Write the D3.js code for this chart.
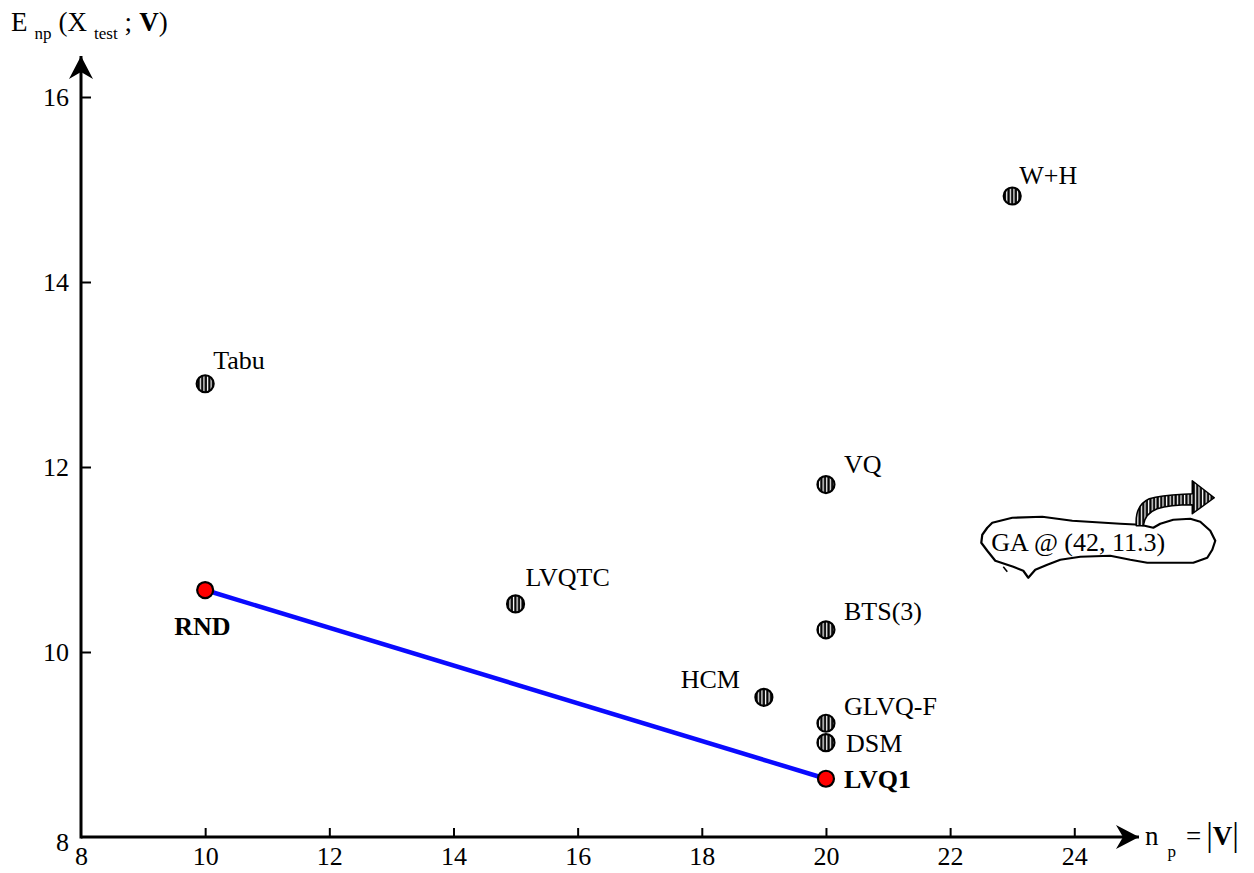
<!DOCTYPE html>
<html>
<head>
<meta charset="utf-8">
<script src="https://cdn.jsdelivr.net/npm/d3@7/dist/d3.min.js"></script>
<style>
  html, body { margin: 0; padding: 0; background: #fff; }
  svg { display: block; font-family: "Liberation Serif", "Times New Roman", serif; }
  svg text { font-family: "Liberation Serif", "Times New Roman", serif; }
</style>
</head>
<body>
<svg id="chart" width="1254" height="873"></svg>
<script>
// Competing prototype-selection methods: number of prototypes vs. test error
const methods    = ["Tabu", "W+H", "VQ", "LVQTC", "BTS(3)", "HCM", "GLVQ-F", "DSM"];
const prototypes = [10, 23, 20, 15, 20, 19, 20, 20];
const errors     = [12.9, 14.93, 11.81, 10.52, 10.24, 9.51, 9.23, 9.02];

// Baseline pair joined by a line
const baseNames  = ["RND", "LVQ1"];
const basePrototypes = [10, 20];
const baseErrors = [10.67, 8.63];

const xTicks = [8, 10, 12, 14, 16, 18, 20, 22, 24];
const yTicks = [8, 10, 12, 14, 16];

const gaNote = "GA @ (42, 11.3)";

// label placement relative to each marker (px)
const labelOffset = {
  "Tabu":   { dx: 8,   dy: -15, anchor: "start" },
  "W+H":    { dx: 7,   dy: -12, anchor: "start" },
  "VQ":     { dx: 18,  dy: -12, anchor: "start" },
  "LVQTC":  { dx: 10,  dy: -18, anchor: "start" },
  "BTS(3)": { dx: 18,  dy: -10, anchor: "start" },
  "HCM":    { dx: -24, dy: -9,  anchor: "end" },
  "GLVQ-F": { dx: 18,  dy: -8,  anchor: "start" },
  "DSM":    { dx: 20,  dy: 9,   anchor: "start" },
  "RND":    { dx: -31, dy: 45,  anchor: "start" },
  "LVQ1":   { dx: 18,  dy: 9,   anchor: "start" }
};

const svg = d3.select("#chart");
const FS = 26;

const x = d3.scaleLinear().domain([8, 24]).range([81, 81 + 16 * 62.08]);
const y = d3.scaleLinear().domain([8, 16]).range([837, 97]);

const defs = svg.append("defs");

// vertical-stripe fill for the method markers
const pat = defs.append("pattern")
  .attr("id", "stripes").attr("patternUnits", "userSpaceOnUse")
  .attr("width", 3.6).attr("height", 10);
pat.append("rect").attr("width", 3.6).attr("height", 10).attr("fill", "#000");
pat.append("rect").attr("x", 1.7).attr("width", 1.3).attr("height", 10).attr("fill", "#fff");

// notched arrowhead for the axes
defs.append("marker")
  .attr("id", "arrow").attr("markerUnits", "userSpaceOnUse")
  .attr("viewBox", "-24 -13 26 26").attr("refX", 0).attr("refY", 0)
  .attr("markerWidth", 26).attr("markerHeight", 26).attr("orient", "auto")
  .append("path").attr("d", "M0,0 L-23,-12 L-16,0 L-23,12 Z").attr("fill", "#000");

// axes
const xAxis = d3.axisBottom(x).tickValues(xTicks).tickSizeInner(-9).tickSizeOuter(0).tickPadding(10);
const yAxis = d3.axisLeft(y).tickValues(yTicks).tickSizeInner(-10).tickSizeOuter(0).tickPadding(12);

const gx = svg.append("g").attr("transform", `translate(0,${y(8)})`).call(xAxis);
const gy = svg.append("g").attr("transform", `translate(${x(8)},0)`).call(yAxis);
[gx, gy].forEach(g => {
  g.attr("font-family", null);
  g.select(".domain").remove();
  g.selectAll(".tick line").attr("stroke", "#000").attr("stroke-width", 2);
  g.selectAll(".tick text").attr("font-size", FS).attr("fill", "#000");
});
gx.selectAll(".tick").filter(d => d === 8).select("line").remove();
gy.selectAll(".tick").filter(d => d === 8).select("line").remove();
gy.selectAll(".tick").filter(d => d === 8).select("text").attr("dy", "0.5em");

svg.append("line")
  .attr("x1", x(8)).attr("y1", y(8)).attr("x2", 1139).attr("y2", y(8))
  .attr("stroke", "#000").attr("stroke-width", 3).attr("marker-end", "url(#arrow)");
svg.append("line")
  .attr("x1", x(8)).attr("y1", y(8) + 1.5).attr("x2", x(8)).attr("y2", 56)
  .attr("stroke", "#000").attr("stroke-width", 3).attr("marker-end", "url(#arrow)");

// axis titles
const yt = svg.append("text").attr("x", 11).attr("y", 31).attr("font-size", 27);
yt.append("tspan").text("E");
yt.append("tspan").attr("font-size", 17).attr("dx", 7).attr("dy", 8).text("np");
yt.append("tspan").attr("dx", 7).attr("dy", -8).text("(X");
yt.append("tspan").attr("font-size", 17).attr("dx", 7).attr("dy", 8).text("test");
yt.append("tspan").attr("dx", 7).attr("dy", -8).text(";");
yt.append("tspan").attr("dx", 7).attr("font-weight", "bold").text("V");
yt.append("tspan").text(")");

const xt = svg.append("text").attr("x", 1145).attr("y", 845).attr("font-size", 27);
xt.append("tspan").text("n");
xt.append("tspan").attr("font-size", 17).attr("dx", 9).attr("dy", 12).text("p");
xt.append("tspan").attr("dx", 10).attr("dy", -12).text("=");
xt.append("tspan").attr("dx", 5).attr("font-size", 33).attr("dy", 1).text("|");
xt.append("tspan").attr("font-weight", "bold").attr("dy", -1).text("V");
xt.append("tspan").attr("font-size", 33).attr("dy", 1).text("|");

// baseline connecting line
const base = baseNames.map((n, i) => ({ name: n, p: basePrototypes[i], e: baseErrors[i] }));
svg.append("path")
  .datum(base)
  .attr("d", d3.line().x(d => x(d.p)).y(d => y(d.e)))
  .attr("fill", "none").attr("stroke", "#0a0aff").attr("stroke-width", 4.5);

// method markers
const pts = methods.map((n, i) => ({ name: n, p: prototypes[i], e: errors[i] }));
svg.append("g").selectAll("circle").data(pts).join("circle")
  .attr("cx", d => x(d.p)).attr("cy", d => y(d.e)).attr("r", 8.5)
  .attr("fill", "url(#stripes)").attr("stroke", "#000").attr("stroke-width", 2.2);

svg.append("g").selectAll("text").data(pts).join("text")
  .attr("x", d => x(d.p) + labelOffset[d.name].dx)
  .attr("y", d => y(d.e) + labelOffset[d.name].dy)
  .attr("text-anchor", d => labelOffset[d.name].anchor)
  .attr("font-size", FS).text(d => d.name);

// baseline markers
svg.append("g").selectAll("circle").data(base).join("circle")
  .attr("cx", d => x(d.p)).attr("cy", d => y(d.e)).attr("r", 8)
  .attr("fill", "#ff0000").attr("stroke", "#000").attr("stroke-width", 2.2);

svg.append("g").selectAll("text").data(base).join("text")
  .attr("x", d => x(d.p) + labelOffset[d.name].dx)
  .attr("y", d => y(d.e) + labelOffset[d.name].dy)
  .attr("text-anchor", d => labelOffset[d.name].anchor)
  .attr("font-size", FS).attr("font-weight", "bold").text(d => d.name);

// off-scale GA result: callout bubble with arrow pointing right
const ga = svg.append("g").attr("transform", `translate(${x(24) - 90},${y(11.3) + 10})`);
const cloud = [
  [8,-19],[28,-24],[58,-25],[88,-21],[136,-18],[156,-17],[169,-14],[176,-18],[189,-22],
  [206,-23],[216,-20],[226,-11],[231,-1],[228,8],[223,16],[209,21],[163,21],[146,18],
  [126,14],[96,15],[76,18],[63,23],[51,28],[44,36],[39,29],[29,25],[11,19],[3,9],
  [-3,1],[-2,-7],[3,-14]
];
ga.append("path")
  .attr("d", d3.line().curve(d3.curveLinearClosed)(cloud))
  .attr("fill", "#fff").attr("stroke", "#000").attr("stroke-width", 2.2).attr("stroke-linejoin", "round");
ga.append("path")
  .attr("d", "M19,25 L23,30")
  .attr("stroke", "#000").attr("stroke-width", 1.5);
ga.append("path")
  .attr("d", "M152,-16 C151,-28 154,-38 165,-43 C179,-47 195,-47 208,-48 L208,-61 L230,-44 L208,-28 L208,-37 C195,-37 182,-36 173,-33 C165,-30 160,-25 159,-16 Z")
  .attr("fill", "url(#stripes)").attr("stroke", "#000").attr("stroke-width", 1.5).attr("stroke-linejoin", "round");
ga.append("text").attr("x", 7).attr("y", 9).attr("font-size", FS).text(gaNote);
</script>
</body>
</html>
